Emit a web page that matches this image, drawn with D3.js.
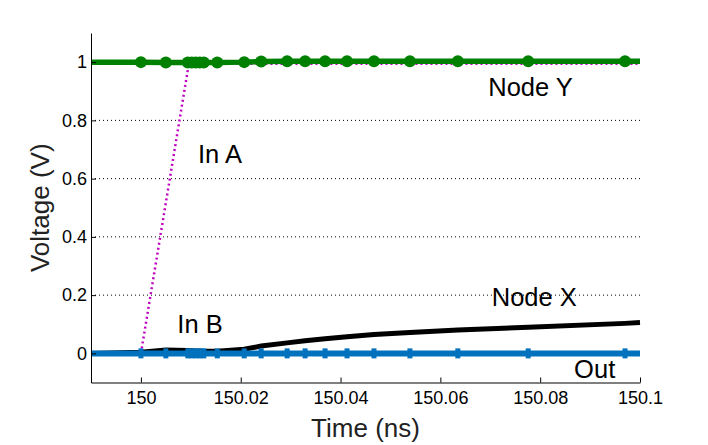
<!DOCTYPE html>
<html>
<head>
<meta charset="utf-8">
<script src="https://cdn.jsdelivr.net/npm/d3@7"></script>
<style>
  html, body { margin: 0; padding: 0; background: #fff; }
  svg { display: block; font-family: "Liberation Sans", Arial, Helvetica, sans-serif; }
</style>
</head>
<body>
<svg id="chart" width="708" height="445"></svg>
<script>
// ---- data ----
const time = [149.99, 150.0, 150.005, 150.0094, 150.0102, 150.011, 150.0118, 150.0126, 150.0153,
              150.0207, 150.0241, 150.0293, 150.0329, 150.0369, 150.0413, 150.0467, 150.0539,
              150.0635, 150.0776, 150.097, 150.1];
const nodeY = [1.000, 1.000, 0.999, 0.999, 0.999, 0.999, 0.999, 0.999, 0.999, 1.000, 1.002,
               1.003, 1.003, 1.003, 1.003, 1.003, 1.003, 1.003, 1.003, 1.003, 1.003];
const outV  = [0, 0, 0, 0, 0, 0, 0, 0, 0, 0, 0, 0, 0, 0, 0, 0, 0, 0, 0, 0, 0];
const nodeX = [0.000, 0.004, 0.012, 0.010, 0.009, 0.008, 0.008, 0.007, 0.007, 0.014, 0.025,
               0.036, 0.043, 0.050, 0.057, 0.065, 0.072, 0.080, 0.090, 0.103, 0.106];
const markerIdx = [1, 2, 3, 4, 5, 6, 7, 8, 9, 10, 11, 12, 13, 14, 15, 16, 17, 18, 19];

const inATime = [149.99, 150.0, 150.0096, 150.1];
const inAVal  = [0, 0, 0.994, 0.994];
const inBTime = [149.99, 150.1];
const inBVal  = [0, 0];

const xTicks = [150, 150.02, 150.04, 150.06, 150.08, 150.1];
const xTickLabels = ["150", "150.02", "150.04", "150.06", "150.08", "150.1"];
const yTicks = [0, 0.2, 0.4, 0.6, 0.8, 1];
const yTickLabels = ["0", "0.2", "0.4", "0.6", "0.8", "1"];

const annText = ["Node Y", "In A", "In B", "Node X", "Out"];
const annT    = [150.0696, 150.01144, 150.0073, 150.0703, 150.0868];
const annV    = [0.885, 0.654, 0.069, 0.163, -0.084];

// ---- layout ----
const L = 91, R = 640, T = 33, B = 382.5;
const svg = d3.select("#chart");
const x = d3.scaleLinear().domain([149.99, 150.1]).range([L, R]);
const y = d3.scaleLinear().domain([-0.1, 1.1]).range([B, T]);

// grid
svg.append("g").selectAll("line").data(yTicks).join("line")
  .attr("x1", L).attr("x2", R)
  .attr("y1", d => y(d)).attr("y2", d => y(d))
  .attr("stroke", "#000").attr("stroke-width", 1)
  .attr("stroke-dasharray", "1,3");

const line = d3.line().x(d => x(d[0])).y(d => y(d[1]));
const zip = (a, b) => a.map((v, i) => [v, b[i]]);

// In B (hidden under Out)
svg.append("path").datum(zip(inBTime, inBVal)).attr("d", line)
  .attr("fill", "none").attr("stroke", "#c000c0").attr("stroke-width", 2.5)
  .attr("stroke-dasharray", "2,3");
// In A
svg.append("path").datum(zip(inATime, inAVal)).attr("d", line)
  .attr("fill", "none").attr("stroke", "#c000c0").attr("stroke-width", 2.5)
  .attr("stroke-dasharray", "2,3");
// Node X
svg.append("path").datum(zip(time, nodeX)).attr("d", line)
  .attr("fill", "none").attr("stroke", "#000").attr("stroke-width", 5);
// Out
svg.append("path").datum(zip(time, outV)).attr("d", line)
  .attr("fill", "none").attr("stroke", "#0072bd").attr("stroke-width", 6);
svg.append("g").selectAll("rect").data(markerIdx).join("rect")
  .attr("x", i => x(time[i]) - 2.5).attr("y", i => y(outV[i]) - 5)
  .attr("width", 5).attr("height", 10).attr("fill", "#0072bd");
// Node Y
svg.append("path").datum(zip(time, nodeY)).attr("d", line)
  .attr("fill", "none").attr("stroke", "#008000").attr("stroke-width", 5.5);
svg.append("g").selectAll("circle").data(markerIdx).join("circle")
  .attr("cx", i => x(time[i])).attr("cy", i => y(nodeY[i]))
  .attr("r", 6).attr("fill", "#008000");

// axes
const xAxis = d3.axisBottom(x).tickValues(xTicks)
  .tickFormat((d, i) => xTickLabels[i]).tickSizeInner(-5).tickSizeOuter(0).tickPadding(9);
const yAxis = d3.axisLeft(y).tickValues(yTicks)
  .tickFormat((d, i) => yTickLabels[i]).tickSizeInner(-5).tickSizeOuter(0).tickPadding(4);

const gx = svg.append("g").attr("transform", `translate(0,${B})`).call(xAxis);
const gy = svg.append("g").attr("transform", `translate(${L},0)`).call(yAxis);
[gx, gy].forEach(g => {
  g.selectAll("text").attr("font-size", 18).attr("fill", "#000")
    .attr("font-family", "'Liberation Sans', Arial, sans-serif");
  g.selectAll("line").attr("stroke", "#000");
  g.select(".domain").attr("stroke", "#000").attr("stroke-width", 1);
});

// axis titles
svg.append("text").attr("x", (L + R) / 2).attr("y", 437)
  .attr("text-anchor", "middle").attr("font-size", 26).attr("fill", "#222")
  .text("Time (ns)");
svg.append("text").attr("transform", `translate(49,${(T + B) / 2}) rotate(-90)`)
  .attr("text-anchor", "middle").attr("font-size", 26).attr("fill", "#222")
  .text("Voltage (V)");

// annotations
svg.append("g").selectAll("text").data(annText).join("text")
  .attr("x", (d, i) => x(annT[i])).attr("y", (d, i) => y(annV[i]))
  .attr("font-size", 25.5).attr("fill", "#000")
  .text(d => d);
</script>
</body>
</html>
